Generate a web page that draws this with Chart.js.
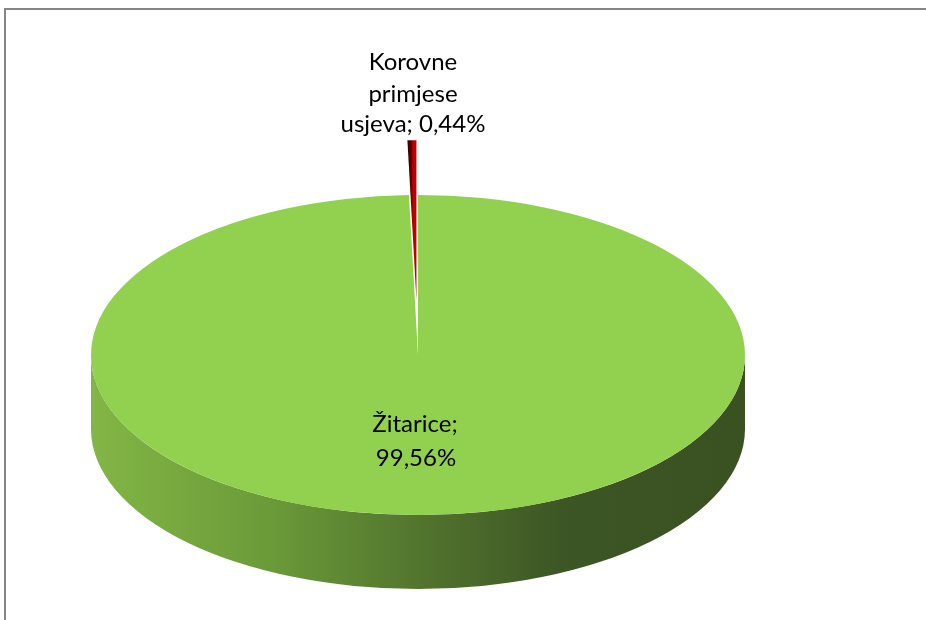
<!DOCTYPE html>
<html><head><meta charset="utf-8">
<script src="https://cdn.jsdelivr.net/npm/chart.js@4/dist/chart.umd.min.js"></script>
<style>html,body{margin:0;padding:0;background:#fff;overflow:hidden}#wrap{width:926px;height:620px;position:relative}</style>
</head><body><div id="wrap"><canvas id="c" width="926" height="620"></canvas></div>
<script>
// ---- data ----
const categories = ['Žitarice', 'Korovne primjese usjeva'];
const labelWords = [['Žitarice;'], ['Korovne', 'primjese', 'usjeva;']];
const values = [99.56, 0.44];
const colors = ['#92D050', '#C00000'];
const explode = [0, 112];   // outward shift of each slice (unsquashed px)

const fmt = v => v.toFixed(2).replace('.', ',') + '%';
const labelLines = [
  [labelWords[0][0], fmt(values[0])],
  [labelWords[1][0], labelWords[1][1], labelWords[1][2] + ' ' + fmt(values[1])]
];

// ---- styling / geometry ----
const K = 160 / 327;     // vertical squash for 3D tilt
const DEPTH = 74;        // side wall height
const FONT = '24px Lato, "Open Sans", sans-serif';

const pie3d = {
  id: 'pie3d',
  beforeDraw(chart) {
    const ctx = chart.ctx;
    ctx.save();
    ctx.fillStyle = '#fff';
    ctx.fillRect(0, 0, chart.width, chart.height);
    ctx.strokeStyle = '#868686';
    ctx.lineWidth = 2;
    ctx.beginPath();
    ctx.moveTo(5, 620);
    ctx.lineTo(5, 9);
    ctx.lineTo(926, 9);
    ctx.stroke();
    ctx.restore();
  },
  beforeDatasetsDraw(chart) {
    const ctx = chart.ctx;
    const arc = chart.getDatasetMeta(0).data[0];
    const cx = arc.x, cy = arc.y, rx = arc.outerRadius, ry = rx * K;
    const g = ctx.createLinearGradient(cx - rx, 0, cx + rx, 0);
    g.addColorStop(0, '#82b645');
    g.addColorStop(0.27, '#6b9b39');
    g.addColorStop(0.52, '#50722d');
    g.addColorStop(0.72, '#3d5625');
    g.addColorStop(1, '#3a5122');
    ctx.save();
    ctx.fillStyle = g;
    ctx.beginPath();
    ctx.ellipse(cx, cy, rx, ry, 0, 0, Math.PI, false);
    ctx.ellipse(cx, cy + DEPTH, rx, ry, 0, Math.PI, 0, true);
    ctx.closePath();
    ctx.fill();
    ctx.restore();
    ctx.save();
    ctx.translate(cx, cy);
    ctx.scale(1, K);
    ctx.translate(-cx, -cy);
  },
  afterDatasetsDraw(chart) {
    const ctx = chart.ctx;
    const meta = chart.getDatasetMeta(0);
    // exploded slices, drawn from the library's arc geometry
    meta.data.forEach((a, i) => {
      if (!explode[i]) return;
      const mid = (a.startAngle + a.endAngle) / 2;
      const dx = Math.cos(mid) * explode[i], dy = Math.sin(mid) * explode[i];
      const x0 = a.x + dx, y0 = a.y + dy;
      const r = a.outerRadius;
      const lx = x0 + Math.cos(a.startAngle) * r, rxp = x0 + Math.cos(a.endAngle) * r;
      const g = ctx.createLinearGradient(lx, 0, rxp, 0);
      g.addColorStop(0, '#2a0000');
      g.addColorStop(0.45, '#6a0000');
      g.addColorStop(0.6, '#c00000');
      g.addColorStop(1, colors[i]);
      ctx.save();
      ctx.fillStyle = g;
      ctx.beginPath();
      ctx.moveTo(x0, y0);
      ctx.arc(x0, y0, r, a.startAngle, a.endAngle);
      ctx.closePath();
      ctx.fill();
      ctx.restore();
    });
    ctx.restore();
    const arc = meta.data[0];
    const cx = arc.x, cy = arc.y;
    ctx.save();
    ctx.font = FONT;
    ctx.fillStyle = '#000';
    ctx.textAlign = 'center';
    ctx.textBaseline = 'alphabetic';
    const big = [[cx - 3, cy + 77], [cx - 2, cy + 111]];
    labelLines[0].forEach((t, i) => ctx.fillText(t, big[i][0], big[i][1]));
    const small = [[cx - 5, cy - 285], [cx - 5, cy - 253], [cx - 5, cy - 223]];
    labelLines[1].forEach((t, i) => ctx.fillText(t, small[i][0], small[i][1]));
    ctx.restore();
  }
};

new Chart(document.getElementById('c'), {
  type: 'pie',
  data: {
    labels: categories,
    datasets: [{
      data: values,
      // exploded slices are painted by the plugin at their shifted position
      backgroundColor: colors.map((c, i) => explode[i] ? 'rgba(0,0,0,0)' : c),
      borderWidth: 0,
      clip: false
    }]
  },
  options: {
    responsive: false,
    devicePixelRatio: 1,
    animation: false,
    events: [],
    radius: 327,
    layout: { padding: { left: 0, right: 90, top: 90, bottom: 0 } },
    plugins: { legend: { display: false }, tooltip: { enabled: false } }
  },
  plugins: [pie3d]
});
</script>
</body></html>
